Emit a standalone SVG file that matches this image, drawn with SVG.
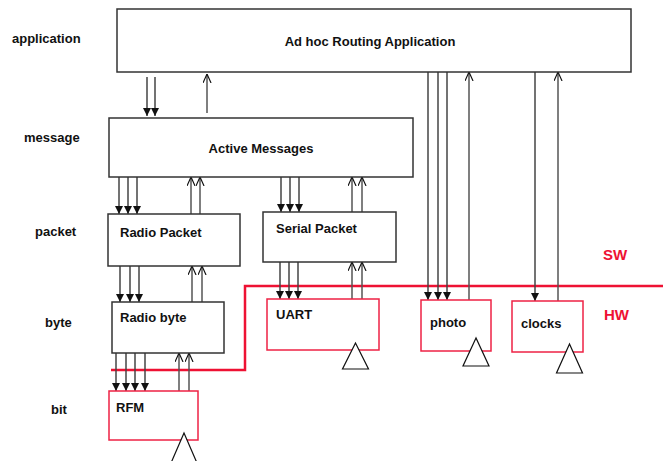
<svg xmlns="http://www.w3.org/2000/svg" width="663" height="461" viewBox="0 0 663 461">
<style>
text{font-family:"Liberation Sans",Arial,sans-serif;font-weight:bold;font-size:13px;fill:#111}
.box{fill:#fff;stroke:#333;stroke-width:1.5}
.hw{fill:#fff;stroke:#ee2244;stroke-width:1.5}
.tri{fill:#fff;stroke:#111;stroke-width:1.2}
.dn{stroke:#444;stroke-width:1.5;fill:none;marker-end:url(#fa)}
.up{stroke:#555;stroke-width:1.5;fill:none;marker-end:url(#oa)}
.red{fill:#ee1133;font-size:15px}
.redline{fill:none;stroke:#ee1133;stroke-width:2.5}
</style>
<defs>
<marker id="fa" viewBox="0 0 10 10" refX="10" refY="5" markerWidth="8" markerHeight="8" markerUnits="userSpaceOnUse" orient="auto"><path d="M0,0 L10,5 L0,10 z" fill="#111"/></marker>
<marker id="oa" viewBox="0 0 10 10" refX="10" refY="5" markerWidth="9" markerHeight="9" markerUnits="userSpaceOnUse" orient="auto"><path d="M0,0.5 L10,5 L0,9.5" fill="none" stroke="#111" stroke-width="1.3"/></marker>
</defs>
<g id="layers">
<text x="12" y="43">application</text>
<text x="24" y="142">message</text>
<text x="35" y="236">packet</text>
<text x="45" y="327">byte</text>
<text x="51" y="414">bit</text>
</g>
<g id="boundary">
<path class="redline" d="M111,370 H245 V286 H663"/>
<text class="red" x="603" y="260">SW</text>
<text class="red" x="604" y="320">HW</text>
</g>
<g id="connectors">
<line class="dn" x1="147" y1="77" x2="147" y2="116"/>
<line class="dn" x1="155" y1="77" x2="155" y2="116"/>
<line class="up" x1="207" y1="113" x2="207" y2="74"/>
<line class="dn" x1="119" y1="177" x2="119" y2="214"/>
<line class="dn" x1="128" y1="177" x2="128" y2="214"/>
<line class="dn" x1="137" y1="177" x2="137" y2="214"/>
<line class="up" x1="191" y1="214" x2="191" y2="177"/>
<line class="up" x1="200" y1="214" x2="200" y2="177"/>
<line class="dn" x1="281" y1="177" x2="281" y2="212"/>
<line class="dn" x1="290" y1="177" x2="290" y2="212"/>
<line class="dn" x1="299" y1="177" x2="299" y2="212"/>
<line class="up" x1="352" y1="212" x2="352" y2="177"/>
<line class="up" x1="362" y1="212" x2="362" y2="177"/>
<line class="dn" x1="120" y1="266" x2="120" y2="302"/>
<line class="dn" x1="130" y1="266" x2="130" y2="302"/>
<line class="dn" x1="139" y1="266" x2="139" y2="302"/>
<line class="up" x1="192" y1="302" x2="192" y2="266"/>
<line class="up" x1="202" y1="302" x2="202" y2="266"/>
<line class="dn" x1="280" y1="262" x2="280" y2="299"/>
<line class="dn" x1="289" y1="262" x2="289" y2="299"/>
<line class="dn" x1="298" y1="262" x2="298" y2="299"/>
<line class="up" x1="352" y1="299" x2="352" y2="262"/>
<line class="up" x1="362" y1="299" x2="362" y2="262"/>
<line class="dn" x1="428" y1="72" x2="428" y2="300"/>
<line class="dn" x1="438" y1="72" x2="438" y2="300"/>
<line class="dn" x1="447" y1="72" x2="447" y2="300"/>
<line class="up" x1="469" y1="300" x2="469" y2="72"/>
<line class="dn" x1="535" y1="72" x2="535" y2="301"/>
<line class="up" x1="558" y1="301" x2="558" y2="72"/>
<line class="dn" x1="116" y1="353" x2="116" y2="391"/>
<line class="dn" x1="126" y1="353" x2="126" y2="391"/>
<line class="dn" x1="135" y1="353" x2="135" y2="391"/>
<line class="dn" x1="145" y1="353" x2="145" y2="391"/>
<line class="up" x1="179" y1="391" x2="179" y2="353"/>
<line class="up" x1="189" y1="391" x2="189" y2="353"/>
</g>
<g id="app">
<rect class="box" x="117" y="9" width="514" height="63"/>
<text x="370" y="46" text-anchor="middle">Ad hoc Routing Application</text>
</g>
<g id="am">
<rect class="box" x="109" y="118" width="304" height="59"/>
<text x="261" y="153" text-anchor="middle">Active Messages</text>
</g>
<g id="radiopacket">
<rect class="box" x="108" y="214" width="132" height="52"/>
<text x="120" y="237">Radio Packet</text>
</g>
<g id="serialpacket">
<rect class="box" x="263" y="212" width="133" height="50"/>
<text x="276" y="233">Serial Packet</text>
</g>
<g id="radiobyte">
<rect class="box" x="112" y="302" width="112" height="51"/>
<text x="120" y="322">Radio byte</text>
</g>
<g id="uart">
<rect class="hw" x="267" y="299" width="112" height="51"/>
<text x="276" y="319">UART</text>
<polygon class="tri" points="355.5,343 342.5,369 368.5,369"/>
</g>
<g id="photo">
<rect class="hw" x="421" y="300" width="70" height="51"/>
<text x="430" y="327">photo</text>
<polygon class="tri" points="476,338 463,366 489,366"/>
</g>
<g id="clocks">
<rect class="hw" x="512" y="301" width="71" height="51"/>
<text x="521" y="328">clocks</text>
<polygon class="tri" points="569.5,344 556.5,373 582.5,373"/>
</g>
<g id="rfm">
<rect class="hw" x="109" y="391" width="89" height="49"/>
<text x="116" y="412">RFM</text>
<polygon class="tri" points="184,433 171,463 197,463"/>
</g>
</svg>
